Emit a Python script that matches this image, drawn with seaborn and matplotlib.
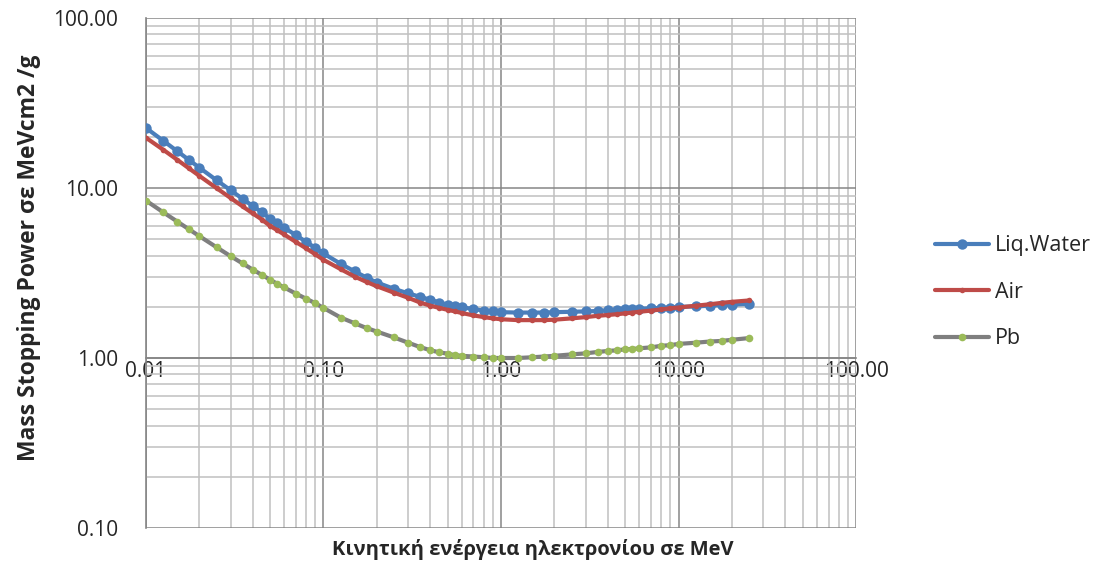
import matplotlib
matplotlib.use('Agg')
import numpy as np
import pandas as pd
import matplotlib.pyplot as plt
import matplotlib.ticker as mticker
import seaborn as sns

# electron kinetic energy grid (MeV)
energy = [0.01, 0.0125, 0.015, 0.0175, 0.02, 0.025, 0.03, 0.035, 0.04, 0.045,
          0.05, 0.055, 0.06, 0.07, 0.08, 0.09, 0.1, 0.125, 0.15, 0.175,
          0.2, 0.25, 0.3, 0.35, 0.4, 0.45, 0.5, 0.55, 0.6, 0.7,
          0.8, 0.9, 1.0, 1.25, 1.5, 1.75, 2.0, 2.5, 3.0, 3.5,
          4.0, 4.5, 5.0, 5.5, 6.0, 7.0, 8.0, 9.0, 10.0, 12.5,
          15.0, 17.5, 20.0, 25.0]

# mass stopping power (MeV cm2 / g)
water = [22.56, 18.98, 16.47, 14.60, 13.17, 11.11, 9.69, 8.64, 7.83, 7.19,
         6.60, 6.21, 5.85, 5.27, 4.82, 4.44, 4.12, 3.58, 3.23, 2.97,
         2.78, 2.55, 2.40, 2.29, 2.20, 2.12, 2.06, 2.02, 1.99, 1.94,
         1.90, 1.88, 1.86, 1.85, 1.85, 1.85, 1.86, 1.87, 1.88, 1.89,
         1.91, 1.92, 1.93, 1.94, 1.95, 1.96, 1.97, 1.98, 2.00, 2.01,
         2.03, 2.05, 2.06, 2.08]

air = [19.76, 16.80, 14.65, 13.03, 11.78, 9.98, 8.73, 7.80, 7.08, 6.52,
       5.98, 5.64, 5.33, 4.81, 4.41, 4.07, 3.78, 3.33, 3.01, 2.80,
       2.64, 2.42, 2.26, 2.12, 2.03, 1.97, 1.92, 1.88, 1.84, 1.78,
       1.74, 1.71, 1.69, 1.67, 1.67, 1.67, 1.68, 1.71, 1.74, 1.77,
       1.79, 1.81, 1.83, 1.85, 1.87, 1.90, 1.93, 1.96, 1.98, 2.03,
       2.07, 2.11, 2.14, 2.18]

pb = [8.43, 7.20, 6.35, 5.71, 5.21, 4.48, 3.97, 3.60, 3.31, 3.08,
      2.89, 2.73, 2.60, 2.39, 2.23, 2.10, 1.97, 1.73, 1.60, 1.50,
      1.43, 1.32, 1.23, 1.16, 1.11, 1.08, 1.06, 1.04, 1.03, 1.02,
      1.01, 1.00, 1.00, 1.00, 1.01, 1.02, 1.03, 1.05, 1.065, 1.085,
      1.10, 1.11, 1.125, 1.13, 1.14, 1.155, 1.18, 1.19, 1.21, 1.23,
      1.25, 1.26, 1.28, 1.31]

x_ticks = [0.01, 0.1, 1, 10, 100]
y_ticks = [0.1, 1, 10, 100]

sns.set_style('white')
plt.rcParams['font.family'] = ['Open Sans', 'DejaVu Sans']

fig = plt.figure(figsize=(11.04, 5.62), dpi=100)
ax = fig.add_axes([0.1322, 0.0605, 0.6432, 0.9075])

# Liq.Water
sns.lineplot(x=energy, y=water, ax=ax, color='#4a7ebb', linewidth=3,
             marker='o', markersize=7.5, markeredgewidth=0,
             label='Liq.Water', zorder=3)
# Air
sns.lineplot(x=energy, y=air, ax=ax, color='#be4b48', linewidth=3,
             marker='o', markersize=4, markeredgewidth=0,
             label='Air', zorder=4)
# Pb
sns.lineplot(x=energy, y=pb, ax=ax, color='#7f7f7f', linewidth=3,
             marker='o', markersize=5.5, markeredgewidth=0,
             markerfacecolor='#9bbb59', label='Pb', zorder=5)

ax.set_xscale('log')
ax.set_yscale('log')
ax.set_xlim(0.01, 100)
ax.set_ylim(0.1, 100)

ax.xaxis.set_major_locator(mticker.FixedLocator(x_ticks))
ax.yaxis.set_major_locator(mticker.FixedLocator(y_ticks))
ax.xaxis.set_minor_locator(mticker.LogLocator(base=10, subs=np.arange(2, 10)))
ax.yaxis.set_minor_locator(mticker.LogLocator(base=10, subs=np.arange(2, 10)))
ax.xaxis.set_minor_formatter(mticker.NullFormatter())
ax.yaxis.set_minor_formatter(mticker.NullFormatter())
fmt = mticker.FuncFormatter(lambda v, p: f'{v:.2f}')
ax.xaxis.set_major_formatter(fmt)
ax.yaxis.set_major_formatter(fmt)

ax.grid(which='major', color='#868686', linewidth=1.1)
ax.grid(which='minor', color='#c0c0c0', linewidth=1.1)
ax.set_axisbelow(True)

# horizontal axis crosses at 1.00
ax.spines['bottom'].set_position(('data', 1))
ax.spines['top'].set_visible(False)
ax.spines['right'].set_visible(False)
for s in ['left', 'bottom']:
    ax.spines[s].set_color('#868686')
    ax.spines[s].set_linewidth(1.2)

ax.tick_params(axis='y', which='major', direction='out', length=6,
               color='#868686', labelsize=15, pad=14)
ax.tick_params(axis='y', which='minor', direction='in', length=5,
               color='#868686')
ax.tick_params(axis='x', which='both', length=0, labelsize=15, pad=2)

ax.set_xlabel('Κινητική ενέργεια ηλεκτρονίου σε MeV', fontsize=14.5,
              fontweight='bold')
ax.xaxis.set_label_coords(0.545, -0.022)
ax.set_ylabel('Mass Stopping Power σε MeVcm2 /g', fontsize=16.5,
              fontweight='bold')
ax.yaxis.set_label_coords(-0.148, 0.53)

leg = ax.legend(loc='center left', bbox_to_anchor=(0.829, 0.48),
                bbox_transform=fig.transFigure, frameon=False,
                fontsize=15.5, labelspacing=1.18, handlelength=2.55,
                handletextpad=0.25)

fig.savefig('out.png', dpi=100)
